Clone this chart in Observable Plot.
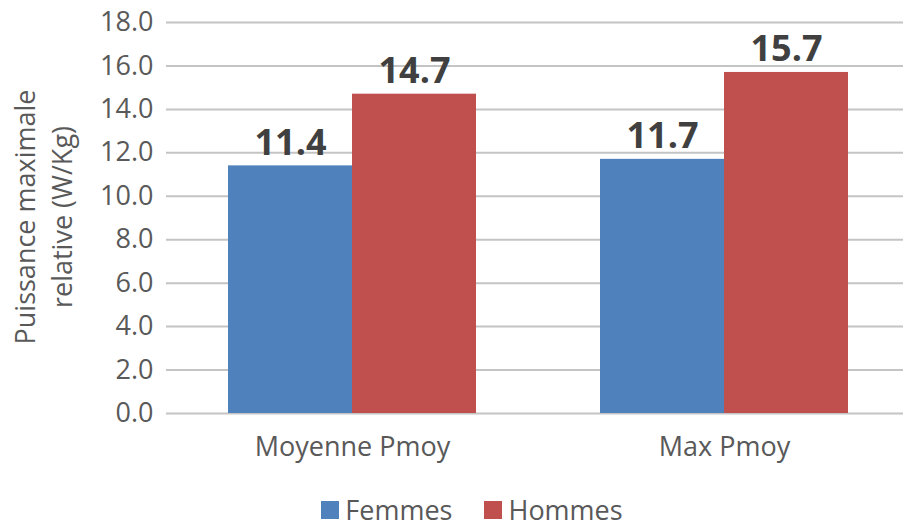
<!DOCTYPE html>
<html>
<head>
<meta charset="utf-8">
<script src="https://cdn.jsdelivr.net/npm/d3@7"></script>
<script src="https://cdn.jsdelivr.net/npm/@observablehq/plot@0.6"></script>
<style>
  html, body { margin: 0; padding: 0; background: #fff; }
  #chart { width: 903px; position: relative; }
  .legend { display: flex; justify-content: center; align-items: center; gap: 32px;
    font-family: "Open Sans", sans-serif; font-size: 27px; color: #595959; padding-left: 41px; margin-top: 15px; line-height: 30px; }
  .legend span.item { display: flex; align-items: center; }
  .legend .sw { width: 18px; height: 18px; margin-right: 6px; display: inline-block; }
  .ylabel { position: absolute; left: 43px; top: 217px; transform: translate(-50%, -50%) rotate(-90deg);
    font-family: "Open Sans", sans-serif; font-size: 27px; line-height: 37px; color: #595959;
    text-align: center; white-space: nowrap; }
</style>
</head>
<body>
<div id="chart"></div>
<script>
const categories = ["Moyenne Pmoy", "Max Pmoy"];
const series = ["Femmes", "Hommes"];
const femmes = [11.4, 11.7];
const hommes = [14.7, 15.7];
const yTicks = [0, 2, 4, 6, 8, 10, 12, 14, 16, 18];
const yLabelLines = ["Puissance maximale", "relative (W/Kg)"];
const colors = ["#4F81BD", "#C0504D"];

const values = [femmes, hommes];
const data = [];
categories.forEach((c, i) => {
  series.forEach((s, j) => data.push({category: c, series: s, value: values[j][i]}));
});

const chart = Plot.plot({
  width: 903,
  height: 480,
  marginTop: 22,
  marginBottom: 67,
  marginLeft: 165,
  marginRight: -7,
  style: {fontFamily: "Open Sans, sans-serif", fontSize: "27px", color: "#595959", background: "#fff"},
  facet: {data, x: "category"},
  fx: {domain: categories, padding: 0, label: null, axis: "bottom", tickSize: 0, tickPadding: 23},
  x: {domain: series, paddingInner: 0, paddingOuter: 0.5, axis: null},
  y: {
    domain: [0, 18], ticks: yTicks, tickFormat: d => d.toFixed(1), tickSize: 0, tickPadding: 13,
    label: null
  },
  color: {domain: series, range: colors},
  marks: [
    Plot.ruleY(yTicks, {stroke: "#c4c4c4", strokeWidth: 2}),
    Plot.barY(data, {x: "series", y: "value", fill: "series"}),
    Plot.text(data, {x: "series", y: "value", text: d => d.value.toFixed(1), lineAnchor: "bottom", dy: -11,
      fontWeight: "bold", fontSize: 36, fill: "#404040"})
  ]
});
const root = document.getElementById("chart");
root.appendChild(chart);

const yl = document.createElement("div");
yl.className = "ylabel";
yl.innerHTML = yLabelLines.join("<br>");
root.appendChild(yl);

const legend = document.createElement("div");
legend.className = "legend";
series.forEach((s, i) => {
  const item = document.createElement("span");
  item.className = "item";
  const sw = document.createElement("span");
  sw.className = "sw";
  sw.style.background = colors[i];
  item.appendChild(sw);
  item.appendChild(document.createTextNode(s));
  legend.appendChild(item);
});
root.appendChild(legend);
</script>
</body>
</html>
